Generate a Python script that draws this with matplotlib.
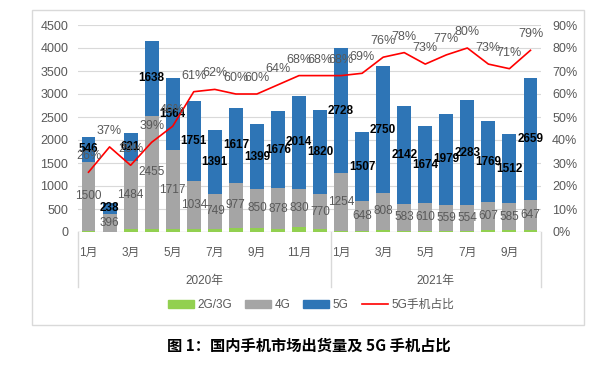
import matplotlib
matplotlib.use("Agg")
import matplotlib.pyplot as plt
from matplotlib.lines import Line2D
from matplotlib.patches import Patch, Rectangle
from matplotlib.transforms import blended_transform_factory
import numpy as np

plt.rcParams['font.family'] = ['Liberation Sans', 'Noto Sans CJK SC', 'DejaVu Sans']

months = ['1月', '2月', '3月', '4月', '5月', '6月', '7月', '8月', '9月', '10月', '11月', '12月',
          '1月', '2月', '3月', '4月', '5月', '6月', '7月', '8月', '9月', '10月']
years = ['2020年', '2021年']
year_counts = [12, 10]
g23 = [30, 4, 55, 70, 65, 65, 75, 95, 90, 70, 110, 60,
       20, 20, 45, 25, 15, 30, 30, 40, 35, 40]
g4 = [1500, 396, 1484, 2455, 1717, 1034, 749, 977, 850, 878, 830, 770,
      1254, 648, 808, 583, 610, 559, 554, 607, 585, 647]
g5 = [546, 238, 621, 1638, 1564, 1751, 1391, 1617, 1399, 1676, 2014, 1820,
      2728, 1507, 2750, 2142, 1674, 1979, 2283, 1769, 1512, 2659]
ratio = [26, 37, 29, 39, 46, 61, 62, 60, 60, 64, 68, 68,
         68, 69, 76, 78, 73, 77, 80, 73, 71, 79]
legend_labels = ['2G/3G', '4G', '5G', '5G手机占比']
title = '图 1：国内手机市场出货量及 5G 手机占比'

C_GREEN = '#92D050'
C_GRAY = '#A5A5A5'
C_BLUE = '#2E75B6'
C_RED = '#FF0000'
C_TXT = '#595959'
C_GRID = '#D9D9D9'

W, H = 602, 367
fig = plt.figure(figsize=(W / 100, H / 100), dpi=100)

# chart frame
fig.patches.append(Rectangle((32 / W, 1 - 325 / H), (584 - 32) / W, (325 - 10) / H,
                             transform=fig.transFigure, fill=False, edgecolor=C_GRID, lw=1.0))

ax = fig.add_axes([78 / W, 1 - 232 / H, (541 - 78) / W, (232 - 25) / H])
ax2 = ax.twinx()

n = len(months)
x = np.arange(n)
g23a = np.array(g23)
g4a = np.array(g4)
g5a = np.array(g5)
bw = 0.66
ax.bar(x, g23a, bw, color=C_GREEN, zorder=2)
ax.bar(x, g4a, bw, bottom=g23a, color=C_GRAY, zorder=2)
ax.bar(x, g5a, bw, bottom=g23a + g4a, color=C_BLUE, zorder=2)

ax.set_xlim(-0.5, n - 0.5)
ax.set_ylim(0, 4500)
ax.set_yticks(np.arange(0, 4501, 500))
ax.yaxis.grid(True, color=C_GRID, lw=0.8)
ax.set_axisbelow(True)
for s in list(ax.spines.values()) + list(ax2.spines.values()):
    s.set_visible(False)
ax.set_xticks([])
ax.tick_params(axis='y', length=0, labelsize=9, labelcolor=C_TXT, pad=7)
ax.axhline(0, color=C_GRID, lw=1.0, zorder=1)

# data labels
for i in range(n):
    ax.text(x[i], g23a[i] + g4a[i] / 2, str(g4[i]), ha='center', va='center',
            fontsize=8.5, color=C_TXT, zorder=5)
    ax.text(x[i], g23a[i] + g4a[i] + g5a[i] / 2, str(g5[i]), ha='center', va='center',
            fontsize=8.5, color='black', fontweight='bold', zorder=5)

ax2.plot(x, ratio, color=C_RED, lw=1.2, zorder=4)
ax2.set_ylim(0, 90)
ax2.set_yticks(np.arange(0, 91, 10))
ax2.set_yticklabels([f'{v}%' for v in range(0, 91, 10)])
ax2.tick_params(axis='y', length=0, labelsize=9, labelcolor=C_TXT, pad=8)
for i in range(n):
    ax2.annotate(f'{ratio[i]}%', (x[i], ratio[i]), xytext=(0, 11.5), textcoords='offset points',
                 ha='center', va='center', fontsize=9, color=C_TXT, zorder=6)

# category axis: months and years
bt = blended_transform_factory(ax.transData, fig.transFigure)
for i in range(n):
    if i % 2 == 0:
        ax.text(x[i], 1 - 253 / H, months[i], transform=bt, ha='center', va='center',
                fontsize=8.5, color=C_TXT)
start = 0
for yl, cnt in zip(years, year_counts):
    center = start + (cnt - 1) / 2
    ax.text(center, 1 - 281 / H, yl, transform=bt, ha='center', va='center',
            fontsize=8.5, color=C_TXT)
    start += cnt
seps = [-0.5]
acc = -0.5
for cnt in year_counts:
    acc += cnt
    seps.append(acc)
for sx in seps:
    ax.add_line(Line2D([sx, sx], [1 - 232 / H, 1 - 287 / H], transform=bt, color=C_GRID,
                       lw=1.0, clip_on=False))

handles = [Patch(color=C_GREEN), Patch(color=C_GRAY), Patch(color=C_BLUE),
           Line2D([], [], color=C_RED, lw=1.2)]
fig.legend(handles, legend_labels, loc='center', bbox_to_anchor=(311 / W, 1 - 305 / H),
           ncol=4, frameon=False, fontsize=8.5, handlelength=2.2, handleheight=0.6,
           handletextpad=0.3, columnspacing=1.1, labelcolor=C_TXT)

fig.text(309 / W, 1 - 346 / H, title, ha='center', va='center', fontsize=11,
         fontweight='bold', color='black', family=['Noto Sans CJK SC', 'DejaVu Sans'])

fig.savefig('out.png', dpi=100)
